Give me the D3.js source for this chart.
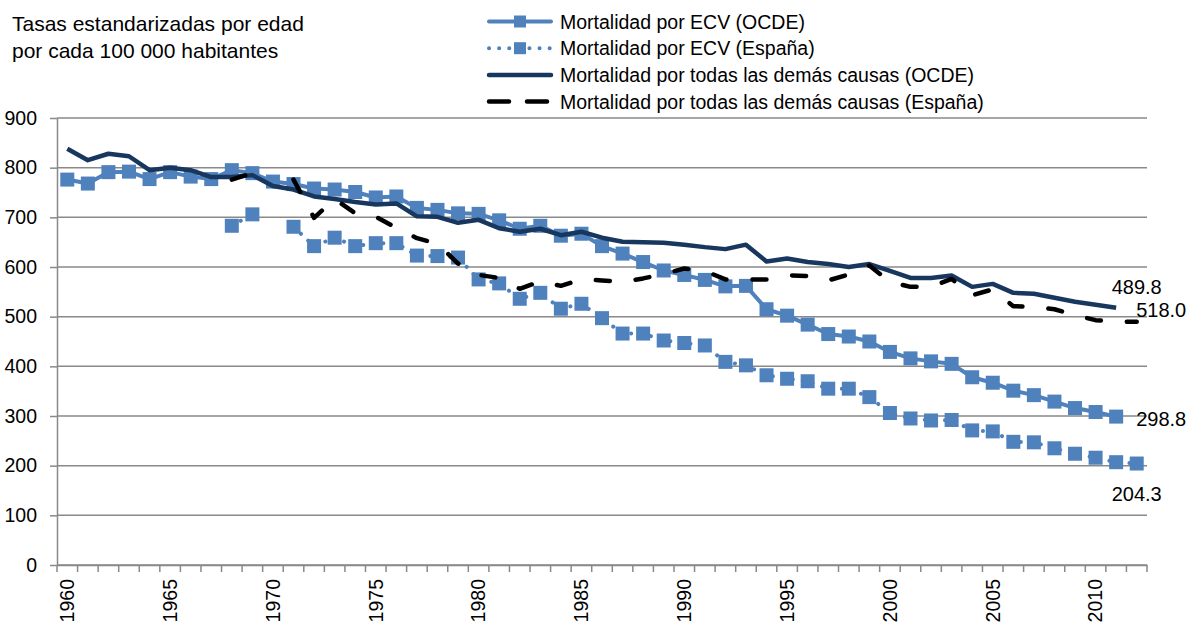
<!DOCTYPE html>
<html>
<head>
<meta charset="utf-8">
<script src="https://cdnjs.cloudflare.com/ajax/libs/d3/7.8.5/d3.min.js"></script>
<style>
  html, body { margin: 0; padding: 0; background: #fff; }
  svg { display: block; font-family: Arial, "Liberation Sans", sans-serif; }
</style>
</head>
<body>
<svg id="chart" width="1190" height="623"></svg>
<script>
// Years on the category axis
const years = [
  1960, 1961, 1962, 1963, 1964, 1965, 1966, 1967, 1968, 1969,
  1970, 1971, 1972, 1973, 1974, 1975, 1976, 1977, 1978, 1979,
  1980, 1981, 1982, 1983, 1984, 1985, 1986, 1987, 1988, 1989,
  1990, 1991, 1992, 1993, 1994, 1995, 1996, 1997, 1998, 1999,
  2000, 2001, 2002, 2003, 2004, 2005, 2006, 2007, 2008, 2009,
  2010, 2011, 2012
];
const yearLabels = [1960, 1965, 1970, 1975, 1980, 1985, 1990, 1995, 2000, 2005, 2010];
const yTicks = [0, 100, 200, 300, 400, 500, 600, 700, 800, 900];

// Mortalidad por ECV (OCDE)
const ecvOcde = [
  776, 768, 791, 792, 777, 791, 782, 777, 795, 789,
  772, 767, 758, 756, 751, 740, 742, 719, 715, 708,
  707, 694, 677, 683, 663, 667, 642, 627, 610, 593,
  584, 574, 561, 562, 515, 502, 484, 465, 460, 450,
  429, 416, 410, 405, 378, 367, 351, 342, 329, 316,
  308, 298.8, null
];
// Mortalidad por ECV (España)
const ecvEsp = [
  null, null, null, null, null, null, null, null, 683, 706,
  null, 681, 642, 659, 642, 648, 648, 623, 622, 619,
  575, 567, 536, 548, 516, 526, 497, 466, 466, 452,
  447, 442, 409, 402, 382, 375, 370, 355, 355, 338,
  306, 295, 291, 292, 271, 269, 248, 247, 235, 224,
  216, 207, 204.3
];
// Mortalidad por todas las demás causas (OCDE)
const otrasOcde = [
  838, 815, 828, 823, 795, 800, 795, 781, 781, 785,
  763, 756, 742, 737, 731, 726, 728, 702, 701, 689,
  695, 678, 671, 677, 664, 671, 659, 651, 650, 649,
  645, 640, 636, 645, 611, 617, 610, 606, 600, 606,
  592, 578, 578, 583, 560, 566, 548, 546, 538, 530,
  524, 518.0, null
];
// Mortalidad por todas las demás causas (España)
const otrasEsp = [
  null, null, null, null, null, null, null, null, 776, 789,
  null, 776, 699, 737, 708, 701, 679, 658, 647, 607,
  584, 578, 556, 571, 562, 575, 573, 570, 577, 586,
  597, 592, 575, 575, 575, 583, 582, 573, 585, 603,
  570, 560, 560, 576, 543, 555, 521, 520, 515, 503,
  493, 490, 489.8
];

const titleLines = ['Tasas estandarizadas por edad', 'por cada 100 000 habitantes'];

// Series styling, drawn in this order
const series = [
  { name: 'Mortalidad por ECV (OCDE)', values: ecvOcde, color: '#4F81BD', width: 4, dash: null, cap: 'butt', marker: true,
    label: { text: '298.8', pos: 'right' } },
  { name: 'Mortalidad por ECV (España)', values: ecvEsp, color: '#4F81BD', width: 4, dash: '0.1 10', cap: 'round', marker: true,
    label: { text: '204.3', pos: 'below' } },
  { name: 'Mortalidad por todas las demás causas (OCDE)', values: otrasOcde, color: '#17375E', width: 4.5, dash: null, cap: 'butt', marker: false,
    label: { text: '518.0', pos: 'right' } },
  { name: 'Mortalidad por todas las demás causas (España)', values: otrasEsp, color: '#000000', width: 4.5, dash: '14 26', cap: 'round', marker: false,
    label: { text: '489.8', pos: 'above' } }
];

const gridColor = '#898989';
const svg = d3.select('#chart');

const x = d3.scaleBand().domain(years).range([57, 1147]);
const y = d3.scaleLinear().domain([0, 900]).range([565, 118]);
const cx = function (yr) { return x(yr) + x.bandwidth() / 2; };

// Title
svg.append('text')
  .attr('font-size', '21px')
  .attr('fill', '#000')
  .selectAll('tspan')
  .data(titleLines)
  .enter().append('tspan')
  .attr('x', 12)
  .attr('y', function (d, i) { return 31 + i * 27; })
  .text(function (d) { return d; });

// Gridlines
svg.append('g')
  .selectAll('line')
  .data(yTicks)
  .enter().append('line')
  .attr('x1', 57).attr('x2', 1147)
  .attr('y1', function (d) { return y(d); })
  .attr('y2', function (d) { return y(d); })
  .attr('stroke', gridColor)
  .attr('stroke-width', 1.5);

// Y axis
const yAxis = svg.append('g')
  .attr('transform', 'translate(57,0)')
  .call(d3.axisLeft(y).tickValues(yTicks).tickSize(7).tickSizeOuter(0).tickPadding(13));
yAxis.selectAll('path, line').attr('stroke', gridColor).attr('stroke-width', 1.5);
yAxis.selectAll('text').attr('font-size', '19.5px').attr('fill', '#000')
  .attr('font-family', 'Arial, "Liberation Sans", sans-serif');

// X axis (labels every five years, ticks between every year)
const xAxis = svg.append('g')
  .attr('transform', 'translate(0,565)')
  .call(d3.axisBottom(x).tickValues(yearLabels).tickSize(0).tickSizeOuter(0));
xAxis.select('.domain').attr('stroke', gridColor).attr('stroke-width', 1.5);
xAxis.selectAll('text')
  .attr('x', -14).attr('y', 0).attr('dy', '0.35em')
  .attr('transform', 'rotate(-90)')
  .style('text-anchor', 'end')
  .attr('font-size', '19.5px').attr('fill', '#000')
  .attr('font-family', 'Arial, "Liberation Sans", sans-serif');

xAxis.append('g')
  .selectAll('line')
  .data(years.map(function (yr) { return x(yr); }).concat([x.range()[1]]))
  .enter().append('line')
  .attr('x1', function (d) { return d; }).attr('x2', function (d) { return d; })
  .attr('y1', 0).attr('y2', 7)
  .attr('stroke', gridColor).attr('stroke-width', 1.5);

// Lines and markers
const line = d3.line()
  .defined(function (d) { return d.v != null; })
  .x(function (d) { return cx(d.year); })
  .y(function (d) { return y(d.v); });

series.forEach(function (s) {
  const pts = years.map(function (yr, i) { return { year: yr, v: s.values[i] }; });
  const g = svg.append('g');
  g.append('path')
    .datum(pts)
    .attr('d', line)
    .attr('fill', 'none')
    .attr('stroke', s.color)
    .attr('stroke-width', s.width)
    .attr('stroke-linecap', s.cap)
    .attr('stroke-linejoin', 'round')
    .attr('stroke-dasharray', s.dash);
  if (s.marker) {
    g.selectAll('rect')
      .data(pts.filter(function (d) { return d.v != null; }))
      .enter().append('rect')
      .attr('x', function (d) { return cx(d.year) - 7; })
      .attr('y', function (d) { return y(d.v) - 7; })
      .attr('width', 14).attr('height', 14)
      .attr('fill', s.color);
  }
  // end value label
  const last = pts.filter(function (d) { return d.v != null; }).pop();
  const lx = cx(last.year), ly = y(last.v);
  const t = svg.append('text')
    .attr('font-size', '20px')
    .attr('fill', '#000')
    .attr('dy', '0.35em')
    .text(s.label.text);
  if (s.label.pos === 'right') {
    t.attr('x', lx + 20).attr('y', ly + 2);
  } else if (s.label.pos === 'below') {
    t.attr('x', lx).attr('y', ly + 30).attr('text-anchor', 'middle');
  } else {
    t.attr('x', lx).attr('y', ly - 35).attr('text-anchor', 'middle');
  }
});

// Legend
const legend = svg.append('g');
series.forEach(function (s, i) {
  const cy = 21.5 + i * 26.7;
  const row = legend.append('g');
  row.append('line')
    .attr('x1', 489).attr('x2', 551)
    .attr('y1', cy).attr('y2', cy)
    .attr('stroke', s.color)
    .attr('stroke-width', s.width)
    .attr('stroke-linecap', 'round')
    .attr('stroke-dasharray', s.dash ? (s.marker ? '0.1 10' : '20 18') : null);
  if (s.marker) {
    row.append('rect')
      .attr('x', 514).attr('y', cy - 6)
      .attr('width', 12).attr('height', 12)
      .attr('fill', s.color);
  }
  row.append('text')
    .attr('x', 560).attr('y', cy)
    .attr('dy', '0.36em')
    .attr('font-size', '19.5px')
    .attr('fill', '#000')
    .text(s.name);
});
</script>
</body>
</html>
